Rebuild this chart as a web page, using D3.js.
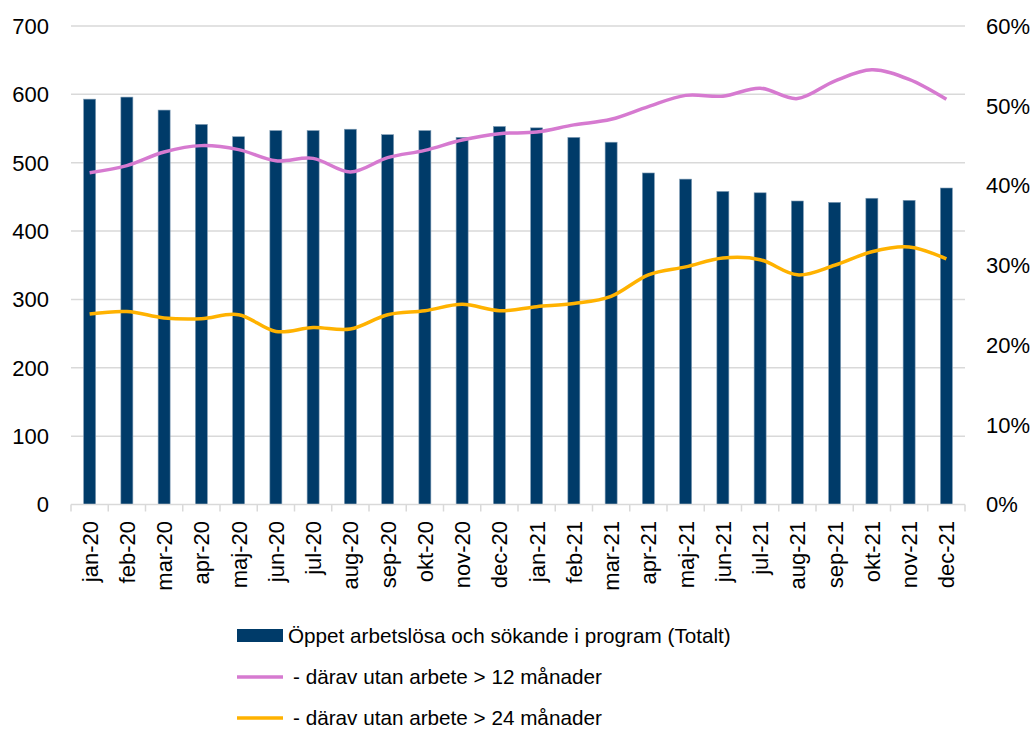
<!DOCTYPE html>
<html><head><meta charset="utf-8">
<script src="https://cdn.jsdelivr.net/npm/d3@7"></script>
<style>
body{margin:0;background:#fff;}
text{font-family:"Liberation Sans",Arial,sans-serif;fill:#000;}
</style></head>
<body><svg id="c" width="1036" height="729"></svg>
<script>
const categories = ["jan-20","feb-20","mar-20","apr-20","maj-20","jun-20","jul-20","aug-20","sep-20","okt-20","nov-20","dec-20",
  "jan-21","feb-21","mar-21","apr-21","maj-21","jun-21","jul-21","aug-21","sep-21","okt-21","nov-21","dec-21"];
const totalt = [593,596,577,556,538,547,547,549,541,547,537,553,551,537,530,485,476,458,456,444,442,448,445,463];
const over12 = [41.6,42.5,44.2,45.0,44.5,43.1,43.4,41.7,43.5,44.4,45.7,46.5,46.7,47.6,48.3,49.9,51.3,51.2,52.2,50.9,53.1,54.5,53.3,50.8];
const over24 = [23.9,24.2,23.4,23.3,23.8,21.7,22.2,22.0,23.8,24.3,25.1,24.3,24.8,25.2,26.1,28.8,29.8,30.9,30.7,28.8,30.0,31.7,32.3,30.8];
const leftTicks = [0,100,200,300,400,500,600,700];
const rightTicks = [0,10,20,30,40,50,60];
const seriesNames = ["Öppet arbetslösa och sökande i program (Totalt)","- därav utan arbete > 12 månader","- därav utan arbete > 24 månader"];

const svg = d3.select("#c");
const L=71, R=965, T=26, B=504.5;
const x = d3.scaleBand().domain(categories).range([L,R]);
const yL = d3.scaleLinear().domain([0,700]).range([B,T]);
const yR = d3.scaleLinear().domain([0,60]).range([B,T]);
const barColor="#003b69", pink="#d67ad0", orange="#ffb200";

// gridlines
svg.append("g").selectAll("line").data(leftTicks.filter(d=>d>0)).join("line")
  .attr("x1",L).attr("x2",R).attr("y1",d=>yL(d)).attr("y2",d=>yL(d))
  .attr("stroke","#d9d9d9").attr("stroke-width",1.5);

// bars
const bw = 12;
svg.append("g").selectAll("rect").data(totalt).join("rect")
  .attr("x",(d,i)=>x(categories[i])+x.bandwidth()/2-bw/2)
  .attr("width",bw)
  .attr("y",d=>yL(d)).attr("height",d=>B-yL(d))
  .attr("fill",barColor).attr("stroke","#7f9cb5").attr("stroke-width",0.6);

// x axis line and ticks
svg.append("line").attr("x1",L).attr("x2",R).attr("y1",B).attr("y2",B).attr("stroke","#d9d9d9").attr("stroke-width",1.5);
const bounds = categories.map(c=>x(c)).concat([R]);
svg.append("g").selectAll("line").data(bounds).join("line")
  .attr("x1",d=>d).attr("x2",d=>d).attr("y1",B).attr("y2",B+7)
  .attr("stroke","#d9d9d9").attr("stroke-width",1.5);

// x labels
svg.append("g").selectAll("text").data(categories).join("text")
  .attr("transform",d=>`translate(${x(d)+x.bandwidth()/2+8},521) rotate(-90)`)
  .attr("text-anchor","end").attr("font-size",22).text(d=>d);

// left labels
svg.append("g").selectAll("text").data(leftTicks).join("text")
  .attr("x",49).attr("y",d=>yL(d)).attr("dy","0.36em").attr("text-anchor","end")
  .attr("font-size",22).text(d=>d);
// right labels
svg.append("g").selectAll("text").data(rightTicks).join("text")
  .attr("x",986).attr("y",d=>yR(d)).attr("dy","0.36em").attr("text-anchor","start")
  .attr("font-size",22).text(d=>d+"%");

// lines
const line = d3.line().x((d,i)=>x(categories[i])+x.bandwidth()/2).y(d=>yR(d)).curve(d3.curveCardinal.tension(0));
svg.append("path").datum(over12).attr("d",line).attr("fill","none").attr("stroke",pink).attr("stroke-width",3.5);
svg.append("path").datum(over24).attr("d",line).attr("fill","none").attr("stroke",orange).attr("stroke-width",3.5);

// legend
const lg = svg.append("g");
lg.append("rect").attr("x",237).attr("y",629).attr("width",46).attr("height",13).attr("fill",barColor);
lg.append("text").attr("x",288).attr("y",635.5).attr("dy","0.36em").attr("font-size",20.7).text(seriesNames[0]);
[[pink,677],[orange,718]].forEach(([c,yy],i)=>{
  lg.append("line").attr("x1",237).attr("x2",283).attr("y1",yy).attr("y2",yy).attr("stroke",c).attr("stroke-width",3.5);
  lg.append("text").attr("x",293).attr("y",yy).attr("dy","0.36em").attr("font-size",20.7).text(seriesNames[i+1]);
});
</script></body></html>
